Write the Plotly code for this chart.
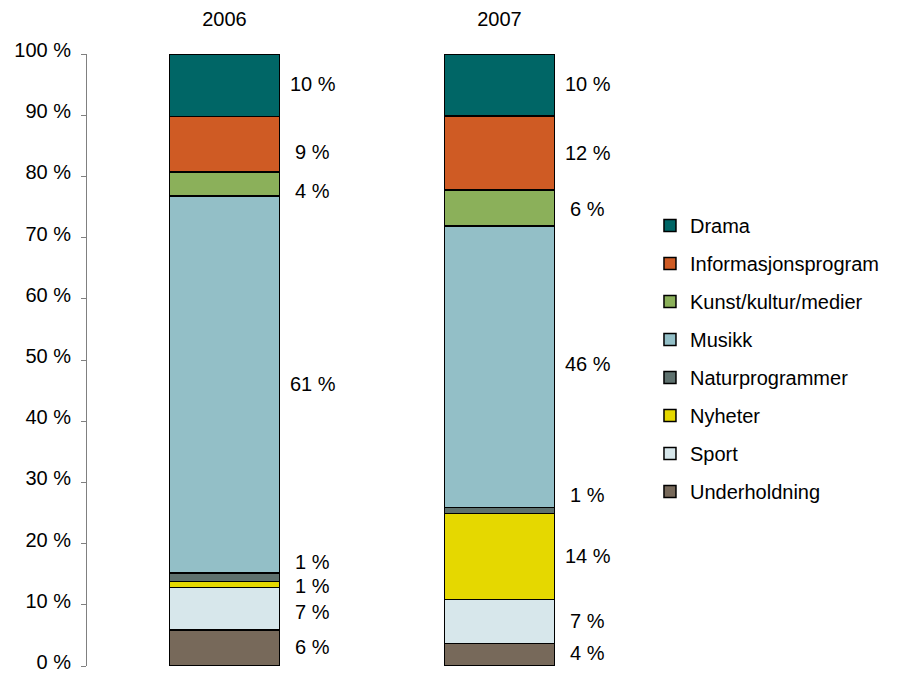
import plotly.graph_objects as go

years = ["2006", "2007"]
categories = ["Underholdning", "Sport", "Nyheter", "Naturprogrammer", "Musikk",
              "Kunst/kultur/medier", "Informasjonsprogram", "Drama"]
underholdning = [5.9, 3.7]
sport = [6.9, 7.2]
nyheter = [1.0, 14.0]
naturprogrammer = [1.4, 1.0]
musikk = [61.6, 46.0]
kunst = [3.9, 5.9]
informasjon = [9.1, 12.1]
drama = [10.2, 10.1]
label_2006 = ["6 %", "7 %", "1 %", "1 %", "61 %", "4 %", "9 %", "10 %"]
label_2007 = ["4 %", "7 %", "14 %", "1 %", "46 %", "6 %", "12 %", "10 %"]
y_ticks = [0, 10, 20, 30, 40, 50, 60, 70, 80, 90, 100]

series = [underholdning, sport, nyheter, naturprogrammer, musikk, kunst, informasjon, drama]
colors = ["#77695A", "#D7E7EB", "#E5D800", "#5E716E", "#93BFC7", "#8BB05A", "#CF5B24", "#006666"]
# label nudges (in % units) to keep small-segment labels apart
nudge_2006 = [0.2, -0.5, -0.3, 2.5, 0.0, -1.2, -1.2, 0.2]
nudge_2007 = [0.35, 0.0, 0.0, 2.5, 0.5, -0.2, 0.0, 0.2]

FONT = "Liberation Sans, Arial, sans-serif"

fig = go.Figure()
n = len(categories)
for i, (name, vals, col) in enumerate(zip(categories, series, colors)):
    fig.add_trace(go.Bar(
        x=years, y=vals, name=name, legendgroup=name, legendrank=n - i,
        marker=dict(color=col, line=dict(color="black", width=1.5)),
        hoverinfo="skip",
    ))

annotations = []
for yi, (labels, nudges) in enumerate([(label_2006, nudge_2006), (label_2007, nudge_2007)]):
    base = 0.0
    for si, vals in enumerate(series):
        v = vals[yi]
        mid = base + v / 2 + nudges[si]
        annotations.append(dict(
            x=yi, y=mid, xref="x", yref="y", text=labels[si],
            showarrow=False, xanchor="center", yanchor="middle", xshift=88,
            font=dict(size=20, color="black", family=FONT),
        ))
        base += v

fig.update_layout(
    barmode="stack",
    bargap=0.6,
    width=890, height=667,
    margin=dict(l=79, r=261, t=46, b=9),
    paper_bgcolor="white", plot_bgcolor="white",
    font=dict(family=FONT, size=20, color="black"),
    showlegend=True,
    legend=dict(
        traceorder="grouped", tracegroupgap=9,
        x=1.0236, xanchor="left", y=0.7515, yanchor="top",
        font=dict(size=20, family=FONT, color="black"),
        bgcolor="rgba(0,0,0,0)",
    ),
    annotations=annotations,
    xaxis=dict(
        type="category", range=[-0.5, 1.5], side="top", showline=False,
        ticks="", showgrid=False, zeroline=False, tickfont=dict(size=20),
        ticklabelstandoff=23, fixedrange=True, automargin=False,
    ),
    yaxis=dict(
        range=[0, 100], tickvals=y_ticks, ticktext=[f"{t} %" for t in y_ticks],
        showline=True, linecolor="#808080", linewidth=1,
        ticks="outside", ticklen=5, tickcolor="#808080",
        showgrid=False, zeroline=False, tickfont=dict(size=20),
        ticklabelstandoff=6, ticklabelshift=-4, ticklabeloverflow="allow",
        fixedrange=True, automargin=False,
    ),
)

fig.write_html("out.html")
